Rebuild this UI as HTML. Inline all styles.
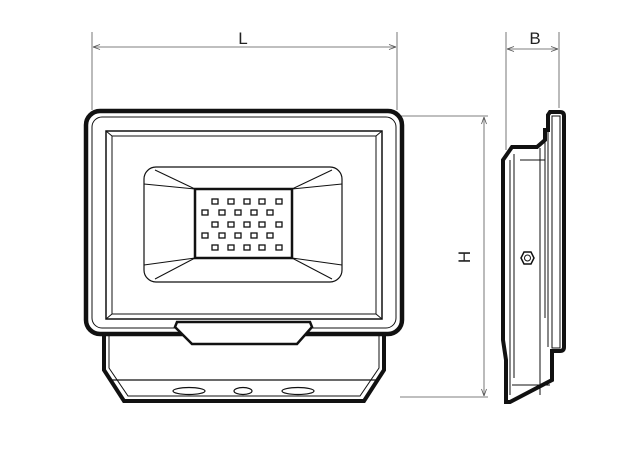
<!DOCTYPE html>
<html><head><style>html,body{margin:0;padding:0;background:#fff}svg{display:block}</style></head>
<body>
<svg width="640" height="468" viewBox="0 0 640 468" xmlns="http://www.w3.org/2000/svg" fill="none" stroke="#111">
<!-- dimension lines -->
<g stroke="#555" stroke-width="0.8">
<line x1="92" y1="32" x2="92" y2="110"/><line x1="397" y1="32" x2="397" y2="110"/>
<line x1="93" y1="47" x2="396" y2="47"/>
<path d="M93 47 l7 -2.5 M93 47 l7 2.5 M396 47 l-7 -2.5 M396 47 l-7 2.5"/>
<line x1="400" y1="116" x2="488" y2="116"/><line x1="400" y1="397" x2="488" y2="397"/>
<line x1="484" y1="117" x2="484" y2="396"/>
<path d="M484 117 l-2.5 7 M484 117 l2.5 7 M484 396 l-2.5 -7 M484 396 l2.5 -7"/>
<line x1="506" y1="32" x2="506" y2="150"/><line x1="559" y1="32" x2="559" y2="108"/>
<line x1="507" y1="49" x2="558" y2="49"/>
<path d="M507 49 l7 -2.5 M507 49 l7 2.5 M558 49 l-7 -2.5 M558 49 l-7 2.5"/>
</g>
<g fill="#222" stroke="none" font-family="Liberation Sans, sans-serif" font-size="17">
<text x="243" y="44" text-anchor="middle">L</text>
<text x="535" y="44" text-anchor="middle">B</text>
<text x="0" y="0" text-anchor="middle" transform="translate(470 257) rotate(-90)">H</text>
</g>
<!-- lower housing -->
<path d="M104 332 L104 370 L124 401 L364 401 L384 370 L384 332" stroke-width="4"/>
<path d="M109 334 L109 368 L128 396 L360 396 L379 368 L379 334" stroke-width="1"/>
<line x1="112" y1="380" x2="376" y2="380" stroke-width="1.2"/>
<ellipse cx="189" cy="391" rx="16" ry="3.5" stroke-width="1.2"/>
<ellipse cx="243" cy="391" rx="9" ry="3.5" stroke-width="1.2"/>
<ellipse cx="298" cy="391" rx="16" ry="3.5" stroke-width="1.2"/>
<!-- main frame -->
<rect x="86" y="111" width="316" height="223" rx="14" stroke-width="4.5" fill="#fff"/>
<rect x="92" y="117" width="304" height="211" rx="10" stroke-width="1"/>
<rect x="106" y="131" width="276" height="188" stroke-width="1.5"/>
<rect x="112" y="136" width="264" height="178" stroke-width="1"/>
<path d="M106 131 L112 136 M382 131 L376 136 M106 319 L112 314 M382 319 L376 314" stroke-width="1"/>
<!-- tab -->
<path d="M177 322 L310 322 L312 327 L297 344 L192 344 L175 327 Z" stroke-width="2.5" fill="#fff"/>
<!-- lens -->
<rect x="144" y="167" width="198" height="115" rx="12" stroke-width="1.2"/>
<path d="M155 170 L195 189 M144 184 L195 189 M332 170 L292 189 M342 184 L292 189 M155 279 L195 258 M144 265 L195 258 M332 279 L292 258 M342 265 L292 258" stroke-width="1"/>
<rect x="195" y="189" width="97" height="69" stroke-width="2.5"/>
<g stroke-width="1.3">
<g id="r1"><rect x="212" y="199" width="6" height="5"/><rect x="228" y="199" width="6" height="5"/><rect x="244" y="199" width="6" height="5"/><rect x="259" y="199" width="6" height="5"/><rect x="276" y="199" width="6" height="5"/></g>
<g id="r2"><rect x="202" y="210" width="6" height="5"/><rect x="219" y="210" width="6" height="5"/><rect x="235" y="210" width="6" height="5"/><rect x="251" y="210" width="6" height="5"/><rect x="267" y="210" width="6" height="5"/></g>
<use href="#r1" y="23"/><use href="#r2" y="23"/><use href="#r1" y="46"/>
</g>
<!-- side view -->
<path d="M550 112 L560 112 Q564 112 564 116 L564 347 Q564 351 560 351 L552 351 L552 380 L510 402 L506 402 L506 360 L503 340 L503 160 L512 147 L537 147 L545 140 L545 130 L548 130 L548 115 Z" stroke-width="4" fill="#fff"/>
<rect x="552" y="116" width="8" height="232" stroke-width="1"/>
<path d="M548 130 L548 347 M540 148 L540 395 M510 160 L510 395 M514 154 L514 378 M520 160 L545 160 M512 385 L550 385 M545 140 L545 318" stroke-width="1"/>
<polygon points="521,258 524,252 531,252 534,258 531,264 524,264" stroke-width="1.5" fill="#fff"/>
<circle cx="527.5" cy="258" r="3" stroke-width="1"/>
</svg>
</body></html>
